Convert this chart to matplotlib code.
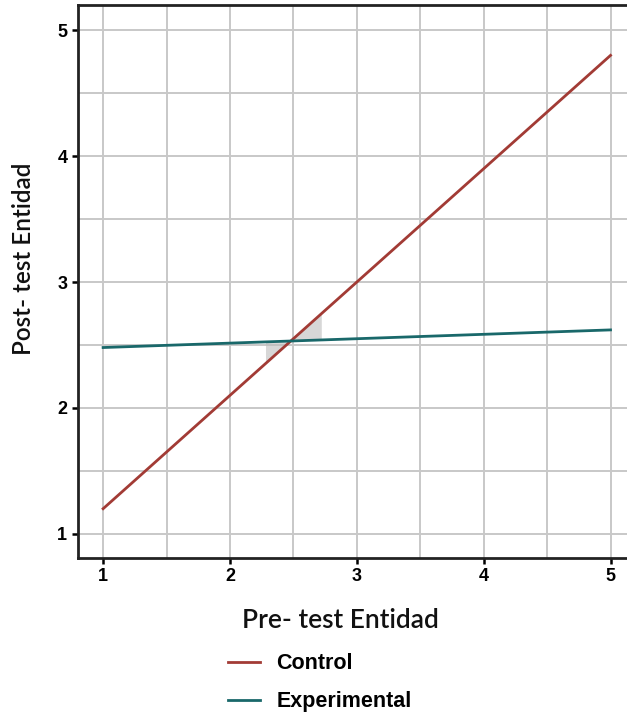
import numpy as np
import matplotlib.pyplot as plt
from matplotlib.ticker import MultipleLocator

# fitted lines (pre-test -> post-test)
pre_test = [1, 5]
control = [1.20, 4.80]
experimental = [2.48, 2.62]
ticks = [1, 2, 3, 4, 5]

plt.rcParams['font.family'] = ['Liberation Sans', 'DejaVu Sans']

fig = plt.figure(figsize=(6.27, 7.17), dpi=100)
ax = fig.add_axes([0.124, 0.222, 0.876, 0.771])

# small grey band around the crossing point
xb = np.linspace(2.28, 2.72, 20)
yc = np.interp(xb, pre_test, control)
ye = np.interp(xb, pre_test, experimental)
ax.fill_between(xb, yc, ye, color='#bdbdbd', alpha=0.6, lw=0, zorder=2)

ax.plot(pre_test, control, color='#a23b35', lw=2, label='Control', zorder=3)
ax.plot(pre_test, experimental, color='#19686a', lw=2, label='Experimental', zorder=3)

ax.set_xlim(0.80, 5.13)
ax.set_ylim(0.81, 5.20)
ax.set_xticks(ticks)
ax.set_yticks(ticks)
ax.xaxis.set_minor_locator(MultipleLocator(0.5))
ax.yaxis.set_minor_locator(MultipleLocator(0.5))
ax.grid(which='both', color='#c8c8c8', lw=1.4, zorder=0)
ax.set_axisbelow(True)

for s in ['left', 'bottom', 'top']:
    ax.spines[s].set_linewidth(2)
    ax.spines[s].set_color('#222222')
ax.spines['right'].set_visible(False)
ax.tick_params(which='major', length=4, width=1.8, labelsize=13)
ax.tick_params(which='minor', length=0)
for lab in ax.get_xticklabels() + ax.get_yticklabels():
    lab.set_fontweight('bold')

ax.set_xlabel('Pre- test Entidad', fontsize=19, family=['Lato', 'DejaVu Sans'],
              fontweight='semibold', color='#111111')
ax.set_ylabel('Post- test Entidad', fontsize=17.5, family=['Lato', 'DejaVu Sans'],
              fontweight='semibold', color='#111111')
ax.xaxis.set_label_coords(0.479, -0.091)
ax.yaxis.set_label_coords(-0.078, 0.54)

fig.legend(loc='upper left', bbox_to_anchor=(0.35, 0.101), frameon=False,
           prop={'size': 15.5, 'weight': 'bold', 'family': 'Liberation Sans'},
           handlelength=1.5, handletextpad=0.75,
           labelspacing=0.8, borderaxespad=0)

fig.savefig('out.png', dpi=100)
